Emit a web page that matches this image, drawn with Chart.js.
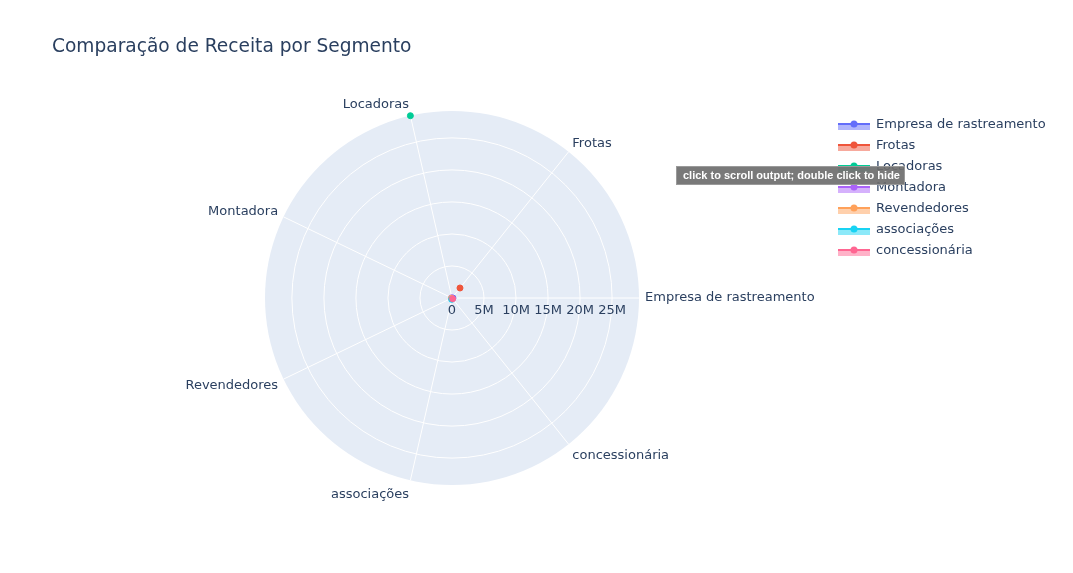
<!DOCTYPE html>
<html>
<head>
<meta charset="utf-8">
<script src="https://cdn.jsdelivr.net/npm/chart.js@4/dist/chart.umd.min.js"></script>
<style>
  html, body { margin: 0; padding: 0; background: #ffffff; }
  #wrap { position: relative; width: 1073px; height: 573px; }
  #c { position: absolute; left: 0; top: 0; }
  #hint {
    position: absolute; left: 676px; top: 166px; width: 229px; height: 19px;
    background: rgba(110,110,110,0.92); border: 1px solid #9a9a9a; box-sizing: border-box;
    color: #ffffff; font: bold 11px "Liberation Sans", Arial, sans-serif;
    line-height: 17px; padding-left: 6px; white-space: nowrap;
  }
</style>
</head>
<body>
<div id="wrap">
  <canvas id="c" width="1073" height="573"></canvas>
  <div id="hint">click to scroll output; double click to hide</div>
</div>
<script>
// ---- data ----
const title = "Comparação de Receita por Segmento";
const categories = ["Empresa de rastreamento", "Frotas", "Locadoras", "Montadora", "Revendedores", "associações", "concessionária"];
const revenue = [150000, 2000000, 29200000, 60000, 90000, 220000, 160000];
const colors = ["#636efa", "#EF553B", "#00cc96", "#ab63fa", "#FFA15A", "#19d3f3", "#FF6692"];
const tickValues = [0, 5000000, 10000000, 15000000, 20000000, 25000000];
const tickLabels = ["0", "5M", "10M", "15M", "20M", "25M"];

// Plotly runs categories counter-clockwise from east; Chart.js runs clockwise.
const displayOrder = [0].concat(categories.slice(1).map((_, i) => categories.length - 1 - i));
const displayLabels = displayOrder.map(i => categories[i]);

function hexToRgba(hex, a) {
  const h = hex.replace('#', '');
  const r = parseInt(h.substr(0, 2), 16), g = parseInt(h.substr(2, 2), 16), b = parseInt(h.substr(4, 2), 16);
  return `rgba(${r},${g},${b},${a})`;
}

const datasets = categories.map((name, ci) => ({
  label: name,
  data: displayOrder.map(di => di === ci ? revenue[ci] : null),
  borderColor: colors[ci],
  backgroundColor: hexToRgba(colors[ci], 0.5),
  pointBackgroundColor: colors[ci],
  pointBorderColor: colors[ci],
  pointBorderWidth: 1,
  pointRadius: 3,
  borderWidth: 2,
  fill: true,
  spanGaps: false,
  order: categories.length - ci
}));

const FONT = '"DejaVu Sans", Verdana, sans-serif';
const TXT = '#2a3f5f';

const overlay = {
  id: 'overlay',
  afterDraw(chart) {
    const ctx = chart.ctx;
    const s = chart.scales.r;
    ctx.save();
    // title
    ctx.fillStyle = TXT;
    ctx.font = '18.6px ' + FONT;
    ctx.textAlign = 'left';
    ctx.textBaseline = 'middle';
    ctx.fillText(title, 52, 47);

    // angular labels
    ctx.font = '13px ' + FONT;
    displayLabels.forEach((lab, i) => {
      const p = s.getPointPosition(i, s.drawingArea + 6);
      const c = Math.cos(p.angle), sn = -Math.sin(p.angle);
      ctx.textAlign = c > 0.1 ? 'left' : (c < -0.1 ? 'right' : 'center');
      ctx.textBaseline = 'middle';
      const dy = -sn * (sn > 0 ? 5 : 9);
      ctx.fillText(lab, p.x, p.y + dy);
    });

    // radial tick labels along the east axis
    ctx.textAlign = 'center';
    ctx.textBaseline = 'middle';
    tickValues.forEach((v, i) => {
      const d = s.getDistanceFromCenterForValue(v);
      ctx.fillText(tickLabels[i], s.xCenter + d, s.yCenter + 13);
    });

    // legend
    const lx = 838, ly = 124, step = 21;
    chart.data.datasets.forEach((ds, i) => {
      const y = ly + i * step;
      ctx.fillStyle = ds.backgroundColor;
      ctx.fillRect(lx, y, 32, 6);
      ctx.strokeStyle = ds.borderColor;
      ctx.lineWidth = 2;
      ctx.beginPath(); ctx.moveTo(lx, y); ctx.lineTo(lx + 32, y); ctx.stroke();
      ctx.fillStyle = ds.pointBackgroundColor;
      ctx.beginPath(); ctx.arc(lx + 16, y, 3.5, 0, Math.PI * 2); ctx.fill();
      ctx.fillStyle = TXT;
      ctx.font = '13px ' + FONT;
      ctx.textAlign = 'left';
      ctx.textBaseline = 'middle';
      ctx.fillText(ds.label, lx + 38, y + 1);
    });
    ctx.restore();
  }
};

new Chart(document.getElementById('c'), {
  type: 'radar',
  data: { labels: displayLabels, datasets },
  options: {
    responsive: false,
    animation: false,
    devicePixelRatio: 1,
    layout: { padding: { left: 264, top: 111, right: 433, bottom: 88 } },
    plugins: { legend: { display: false }, title: { display: false }, tooltip: { enabled: false } },
    scales: {
      r: {
        min: 0,
        max: Math.max(...revenue),
        startAngle: 90,
        backgroundColor: '#E5ECF6',
        grid: { circular: true, color: '#ffffff', lineWidth: 1 },
        angleLines: { color: '#ffffff', lineWidth: 1 },
        pointLabels: { display: false },
        ticks: { display: false },
        afterBuildTicks: (scale) => { scale.ticks = tickValues.map(v => ({ value: v })); }
      }
    }
  },
  plugins: [overlay]
});
</script>
</body>
</html>
